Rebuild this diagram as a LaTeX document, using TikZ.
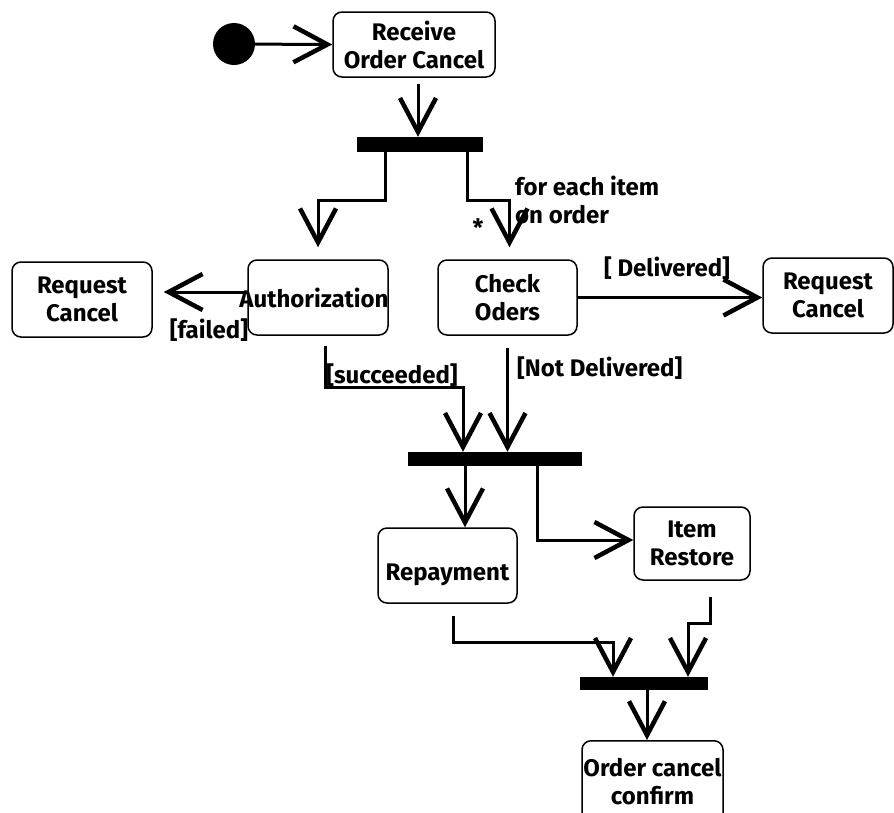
\documentclass[tikz,border=0pt]{standalone}
\usepackage{fontspec}
\setmainfont{Fira Sans}
\usetikzlibrary{arrows.meta}

\tikzset{
	act/.style={draw, line width=1.5pt, rounded corners=9pt, inner sep=0pt, align=center, font=\bfseries\fontsize{24}{28}\selectfont},
	bar/.style={fill=black, inner sep=0pt},
	flow/.style={line width=3pt, -{Straight Barb[length=34pt,width=36pt,line width=4.5pt]}},
	lbl/.style={font=\bfseries\fontsize{24}{28}\selectfont, inner sep=1pt}
}

\begin{document}
\begin{tikzpicture}[x=1pt, y=-1pt]
			\useasboundingbox (0,0) rectangle (894,812);
			\clip (0,0) rectangle (894,812);

			\node[circle, fill=black, minimum size=42pt, inner sep=0pt] (start) at (234,44) {};
			\node[act, minimum width=162pt, minimum height=65pt] (recv) at (414,44.5) {Receive\\Order Cancel};
			\node[bar, minimum width=126pt, minimum height=15pt] (bar1) at (420,144.5) {};

			\node[act, minimum width=140pt, minimum height=75pt] (reqL) at (82,299.5) {Request\\Cancel};
			\node[act, minimum width=140pt, minimum height=75pt] (auth) at (318,297.5) {\makebox[0pt]{\hspace{-8pt}Authorization}};
			\node[act, minimum width=139pt, minimum height=75pt] (chk) at (507.5,297.5) {Check\\Oders};
			\node[act, minimum width=130pt, minimum height=75pt] (reqR) at (828,295.5) {Request\\Cancel};

			\node[bar, minimum width=174pt, minimum height=14pt] (bar2) at (495,459) {};
			\node[act, minimum width=139pt, minimum height=75pt] (pay) at (447.5,565.5) {\raisebox{-15pt}[0pt][0pt]{Repayment}};
			\node[act, minimum width=116pt, minimum height=73pt] (rest) at (692,543.5) {Item\\Restore};

			\node[bar, minimum width=128pt, minimum height=13pt] (bar3) at (644,683.5) {};
			\node[act, minimum width=141pt, minimum height=82pt, anchor=north] (conf) at (652.5,740) {Order cancel\\confirm};

			% labels
			\node[lbl] (star) at (478,228) {*};
			\node[lbl, anchor=west, align=left] (each) at (514,200) {for each item\\on order};
			\node[lbl] (failed) at (209,330) {[failed]};
			\node[lbl] (deliv) at (667,268) {[ Delivered]};
			\node[lbl, anchor=south] (succ) at (392,388) {[succeeded]};
			\node[lbl, anchor=west] (notdel) at (516,368) {[Not Delivered]};

			% flows
			\draw[flow] (start) -- (recv.west);
			\draw[flow, shorten <=6pt] ([xshift=4pt]recv.south) -- ([xshift=4pt]recv.south |- bar1.north);
			\draw[flow, shorten >=12pt] ([xshift=-35pt]bar1.south) -- ++(0,48) -| (auth.north);
			\draw[flow, shorten >=12pt] ([xshift=47pt]bar1.south) -- ++(0,48) -| ([xshift=2pt]chk.north);
			\draw[flow, shorten >=11pt] ([yshift=5.5pt]auth.west) -- ([yshift=5.5pt]auth.west -| reqL.east);
			\draw[flow] (chk.east) -- (chk.east -| reqR.west);
			\draw[flow, shorten <=10pt] ([xshift=7pt]auth.south) -- ++(0,52) -| ([xshift=-32pt]bar2.north);
			\draw[flow, shorten <=12pt] (chk.south) -- (chk.south |- bar2.north);
			\draw[flow] ([xshift=-30pt]bar2.south) -- ([xshift=-30pt]bar2.south |- pay.north);
			\draw[flow] ([xshift=42pt]bar2.south) |- ([yshift=3.5pt]rest.west);
			\draw[flow, shorten <=12pt] ([xshift=5.5pt]pay.south) -- ++(0,39) -| ([xshift=-31pt]bar3.north);
			\draw[flow, shorten <=16pt] ([xshift=18pt]rest.south) -- ++(0,43) -| ([xshift=44pt]bar3.north);
			\draw[flow] ([xshift=3pt]bar3.south) -- ([xshift=3pt]bar3.south |- conf.north);
		\end{tikzpicture}
\end{document}
